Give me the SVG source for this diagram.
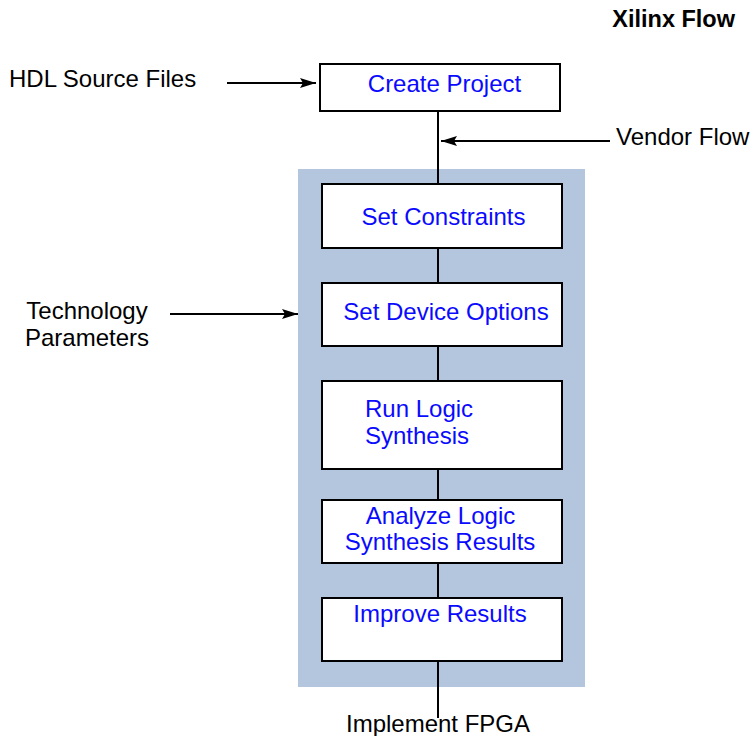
<svg xmlns="http://www.w3.org/2000/svg" width="751" height="736" viewBox="0 0 751 736">
  <style>
    .lbl { font-family: "Liberation Sans", Arial, sans-serif; font-size: 24px; fill: #000; }
    .node rect { fill: #fff; stroke: #000; stroke-width: 2; }
    .node text { font-family: "Liberation Sans", Arial, sans-serif; font-size: 24px; fill: #0a0aff; }
    .conn line { stroke: #000; stroke-width: 2; fill: none; }
    .title { font-family: "Liberation Sans", Arial, sans-serif; font-size: 23.5px; font-weight: bold; fill: #000; }
  </style>
  <defs>
    <marker id="arrow" markerUnits="userSpaceOnUse" markerWidth="18" markerHeight="12" refX="16" refY="5" orient="auto">
      <path d="M0,0 L16,5 L0,10 L3,5 z" fill="#000"/>
    </marker>
  </defs>
  <rect width="751" height="736" fill="#fff"/>
  <text class="title" x="735" y="27" text-anchor="end">Xilinx Flow</text>

  <rect id="panel" x="298" y="169" width="287" height="518" fill="#b3c6dd"/>

  <g class="conn" id="connectors">
    <line x1="438" y1="111" x2="438" y2="184"/>
    <line x1="438" y1="248" x2="438" y2="283"/>
    <line x1="438" y1="346" x2="438" y2="381"/>
    <line x1="438" y1="469" x2="438" y2="500"/>
    <line x1="438" y1="563" x2="438" y2="598"/>
    <line x1="438" y1="661" x2="438" y2="718"/>
    <line x1="227" y1="83" x2="316" y2="83" marker-end="url(#arrow)"/>
    <line x1="610" y1="141" x2="441" y2="141" marker-end="url(#arrow)"/>
    <line x1="170" y1="314" x2="298" y2="314" marker-end="url(#arrow)"/>
  </g>

  <g class="node" id="create-project">
    <rect x="320" y="64" width="240" height="47"/>
    <text x="444.5" y="91.5" text-anchor="middle">Create Project</text>
  </g>
  <g class="node" id="set-constraints">
    <rect x="322" y="184" width="240" height="64"/>
    <text x="443.5" y="225" text-anchor="middle">Set Constraints</text>
  </g>
  <g class="node" id="set-device-options">
    <rect x="322" y="283" width="240" height="63"/>
    <text x="446" y="320" text-anchor="middle">Set Device Options</text>
  </g>
  <g class="node" id="run-logic-synthesis">
    <rect x="322" y="381" width="240" height="88"/>
    <text x="365" y="417">Run Logic</text>
    <text x="365" y="443.5">Synthesis</text>
  </g>
  <g class="node" id="analyze-results">
    <rect x="322" y="500" width="240" height="63"/>
    <text x="440.5" y="523.5" text-anchor="middle">Analyze Logic</text>
    <text x="440" y="550" text-anchor="middle">Synthesis Results</text>
  </g>
  <g class="node" id="improve-results">
    <rect x="322" y="598" width="240" height="63"/>
    <text x="440" y="621.5" text-anchor="middle">Improve Results</text>
  </g>

  <text class="lbl" x="9" y="87">HDL Source Files</text>
  <text class="lbl" x="616" y="145">Vendor Flow</text>
  <text class="lbl" x="87" y="319" text-anchor="middle">Technology</text>
  <text class="lbl" x="87" y="346" text-anchor="middle">Parameters</text>
  <text class="lbl" x="438" y="731.5" text-anchor="middle">Implement FPGA</text>
</svg>
